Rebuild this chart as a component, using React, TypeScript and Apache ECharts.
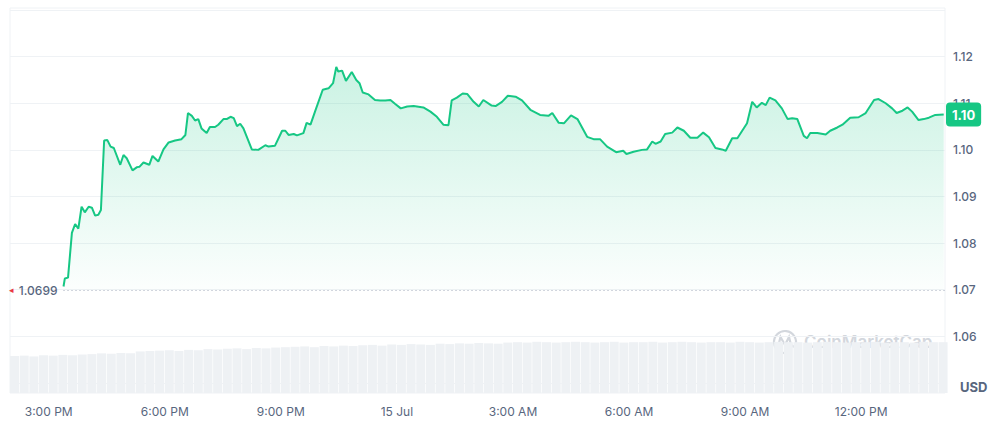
import React, { useEffect, useRef } from 'react';
import * as echarts from 'echarts';

// price line (14 Jul 15:23 -> 15 Jul 14:08)
const priceTimes = [
  '15:23', '15:25', '15:30', '15:36', '15:41', '15:46', '15:51', '15:56', '16:02', '16:07',
  '16:12', '16:17', '16:21', '16:26', '16:31', '16:36', '16:41', '16:51', '16:56', '17:01',
  '17:10', '17:17', '17:21', '17:27', '17:36', '17:41', '17:50', '17:58', '18:06', '18:16',
  '18:26', '18:32', '18:36', '18:42', '18:47', '18:52', '18:57', '19:05', '19:10', '19:18',
  '19:23', '19:31', '19:36', '19:42', '19:47', '19:52', '19:57', '20:02', '20:15', '20:25',
  '20:36', '20:41', '20:51', '21:02', '21:07', '21:12', '21:20', '21:25', '21:35', '21:40',
  '21:46', '21:53', '22:05', '22:14', '22:21', '22:26', '22:29', '22:35', '22:41', '22:50',
  '22:57', '23:02', '23:07', '23:16', '23:26', '23:34', '23:42', '23:50', '23:57', '00:06',
  '00:16', '00:26', '00:41', '00:52', '01:02', '01:12', '01:20', '01:25', '01:33', '01:42',
  '01:49', '01:59', '02:07', '02:14', '02:27', '02:33', '02:43', '02:52', '03:04', '03:14',
  '03:27', '03:42', '03:55', '04:01', '04:11', '04:19', '04:30', '04:40', '04:55', '05:05',
  '05:15', '05:26', '05:40', '05:51', '05:56', '06:07', '06:20', '06:28', '06:36', '06:41',
  '06:49', '06:56', '07:07', '07:15', '07:25', '07:35', '07:46', '07:55', '08:04', '08:14',
  '08:24', '08:30', '08:40', '08:48', '09:03', '09:11', '09:18', '09:26', '09:32', '09:38',
  '09:47', '09:57', '10:06', '10:13', '10:21', '10:31', '10:36', '10:41', '10:52', '11:05',
  '11:12', '11:23', '11:31', '11:43', '11:56', '12:07', '12:20', '12:27', '12:38', '12:48',
  '12:55', '13:04', '13:12', '13:19', '13:29', '13:37', '13:45', '13:55', '14:08'
];

const prices = [
  1.0707, 1.0724, 1.0726, 1.0822, 1.0841, 1.0831, 1.0878, 1.0866, 1.0878, 1.0876,
  1.0859, 1.0861, 1.0871, 1.1020, 1.1021, 1.1007, 1.1004, 1.0968, 1.0989, 1.0982,
  1.0956, 1.0963, 1.0964, 1.0973, 1.0968, 1.0987, 1.0975, 1.1001, 1.1016, 1.1020,
  1.1023, 1.1032, 1.1079, 1.1073, 1.1063, 1.1066, 1.1046, 1.1036, 1.1049, 1.1049,
  1.1054, 1.1066, 1.1066, 1.1071, 1.1068, 1.1051, 1.1056, 1.1046, 1.1001, 1.1000,
  1.1010, 1.1007, 1.1009, 1.1041, 1.1041, 1.1032, 1.1034, 1.1031, 1.1036, 1.1058,
  1.1054, 1.1082, 1.1129, 1.1132, 1.1143, 1.1178, 1.1168, 1.1170, 1.1148, 1.1167,
  1.1150, 1.1143, 1.1123, 1.1119, 1.1107, 1.1106, 1.1106, 1.1107, 1.1099, 1.1089,
  1.1093, 1.1094, 1.1091, 1.1082, 1.1071, 1.1054, 1.1053, 1.1106, 1.1112, 1.1121,
  1.1120, 1.1103, 1.1093, 1.1107, 1.1095, 1.1094, 1.1103, 1.1116, 1.1114, 1.1106,
  1.1086, 1.1075, 1.1073, 1.1079, 1.1058, 1.1057, 1.1074, 1.1066, 1.1028, 1.1023,
  1.1023, 1.1007, 1.0995, 1.0998, 1.0991, 1.0996, 1.1000, 1.1001, 1.1018, 1.1013,
  1.1018, 1.1034, 1.1037, 1.1048, 1.1041, 1.1026, 1.1026, 1.1037, 1.1027, 1.1004,
  1.1001, 1.0998, 1.1025, 1.1025, 1.1057, 1.1103, 1.1091, 1.1101, 1.1096, 1.1112,
  1.1106, 1.1089, 1.1066, 1.1068, 1.1066, 1.1030, 1.1025, 1.1036, 1.1036, 1.1033,
  1.1041, 1.1048, 1.1054, 1.1069, 1.1070, 1.1079, 1.1107, 1.1109, 1.1100, 1.1089,
  1.1079, 1.1084, 1.1091, 1.1082, 1.1064, 1.1066, 1.1069, 1.1075, 1.1076
];

// volume bars, one every 15 minutes from 14:07
const volumes = [
  96, 97, 95, 98, 97, 99, 98, 100,
  101, 103, 102, 104, 103,
  108, 109, 110, 111, 109, 112, 111,
  114, 113, 115, 116, 114, 117, 116, 118,
  119, 120, 121, 119, 122, 121, 123, 122,
  124, 125, 123, 126, 125, 127, 126, 125,
  128, 127, 129, 128, 130, 129, 128,
  131, 132, 131, 133, 132, 131, 132, 133, 132, 131,
  132, 133, 131, 132, 132, 133, 131, 132, 133, 132,
  131, 132, 132, 131, 133, 132, 131, 132, 133, 132,
  132, 131, 132, 133, 132, 131, 132, 132, 133, 131,
  132, 132, 131, 133, 132, 132
];

const openPrice = 1.0699;
const xTickTimes = ['15:00', '18:00', '21:00', '00:00', '03:00', '06:00', '09:00', '12:00'];

const GREEN = '#16c784';
const GREY = '#58667e';
const FONT = 'Inter, "Noto Sans", sans-serif';

// "HH:MM" strings -> timestamps, rolling over to 15 Jul after midnight
const toStamps = (times: string[]) => {
  let day = 14;
  let prev = -1;
  return times.map((t) => {
    const [h, m] = t.split(':').map(Number);
    if (h < prev) day += 1;
    prev = h;
    return new Date(2024, 6, day, h, m).getTime();
  });
};

const App: React.FC = () => {
  const chartRef = useRef<HTMLDivElement>(null);

  useEffect(() => {
    if (!chartRef.current) return;
    const chart = echarts.init(chartRef.current, null, { renderer: 'svg' });

    const xMin = new Date(2024, 6, 14, 14, 0).getTime();
    const xMax = new Date(2024, 6, 15, 14, 10).getTime();
    const priceStamps = toStamps(priceTimes);
    const priceData = priceStamps.map((t, i) => [t, prices[i]]);
    const volStart = new Date(2024, 6, 14, 14, 7).getTime();
    const volData = volumes.map((v, i) => [volStart + i * 15 * 60000, v]);
    const last = prices[prices.length - 1];

    const option = {
      animation: false,
      backgroundColor: '#ffffff',
      grid: [
        { left: 10, right: 56, top: 10, bottom: 40 },
        {
          left: 10, right: 56, top: 8, bottom: 30,
          show: true, borderColor: '#eff2f5', borderWidth: 1, backgroundColor: 'transparent'
        }
      ],
      xAxis: [
        { gridIndex: 0, type: 'value', min: xMin, max: xMax, show: false },
        {
          gridIndex: 1,
          type: 'value',
          min: xMin,
          max: xMax,
          axisLine: { show: false },
          axisTick: { show: false },
          splitLine: { show: false },
          axisLabel: {
            customValues: toStamps(xTickTimes),
            margin: 12,
            color: GREY,
            fontSize: 12,
            fontFamily: FONT,
            hideOverlap: false,
            formatter: (v: number) => {
              const d = new Date(v);
              const h = d.getHours();
              if (h === 0) return '15 Jul';
              const h12 = h % 12 === 0 ? 12 : h % 12;
              return `${h12}:00 ${h < 12 ? 'AM' : 'PM'}`;
            }
          }
        }
      ],
      yAxis: [
        {
          gridIndex: 0,
          type: 'value',
          position: 'right',
          min: 1.05,
          max: 1.13,
          interval: 0.01,
          axisLine: { show: false },
          axisTick: { show: false },
          splitLine: { lineStyle: { color: '#eff2f5', width: 1 } },
          axisLabel: {
            margin: 8,
            color: GREY,
            fontSize: 12,
            fontWeight: 500,
            fontFamily: FONT,
            formatter: (v: number) => (v < 1.055 || v > 1.125 ? '' : v.toFixed(2))
          }
        },
        { gridIndex: 1, type: 'value', min: 0, max: 1000, show: false }
      ],
      series: [
        {
          type: 'bar',
          xAxisIndex: 1,
          yAxisIndex: 1,
          data: volData,
          barWidth: 9,
          itemStyle: { color: '#eef1f4' },
          silent: true,
          z: 1
        },
        {
          type: 'line',
          xAxisIndex: 0,
          yAxisIndex: 0,
          data: priceData,
          symbol: 'none',
          lineStyle: { color: GREEN, width: 2 },
          areaStyle: {
            origin: openPrice,
            color: new echarts.graphic.LinearGradient(0, 0, 0, 1, [
              { offset: 0, color: 'rgba(22,199,132,0.32)' },
              { offset: 1, color: 'rgba(22,199,132,0.02)' }
            ])
          },
          z: 3,
          markLine: {
            silent: true,
            precision: 4,
            symbol: ['none', 'none'],
            z: 10,
            lineStyle: { color: '#a6adbd', type: [1, 3], width: 1 },
            label: {
              position: 'start',
              distance: 6,
              formatter: '{r|◂}{t|1.0699}',
              rich: {
                r: { color: '#ea3943', fontSize: 9, padding: [0, 5, 0, 0] },
                t: { color: GREY, fontSize: 12, fontWeight: 500, fontFamily: FONT }
              }
            },
            data: [
              [{ coord: [priceStamps[0], openPrice] }, { coord: [xMax, openPrice] }],
              {
                yAxis: last,
                lineStyle: { color: 'rgba(0,0,0,0)', width: 0 },
                label: {
                  position: 'end',
                  distance: 1,
                  opacity: 1,
                  align: 'left',
                  verticalAlign: 'middle',
                  formatter: (Math.floor(last * 100) / 100).toFixed(2),
                  backgroundColor: GREEN,
                  color: '#ffffff',
                  borderRadius: 4,
                  padding: [6, 6, 5, 6],
                  fontSize: 13,
                  fontWeight: 700,
                  fontFamily: FONT
                }
              }
            ]
          }
        }
      ],
      graphic: [
        {
          type: 'text',
          left: 960,
          top: 380,
          style: { text: 'USD', fill: GREY, font: `700 13px ${FONT}` }
        },
        {
          type: 'group',
          z: 10,
          silent: true,
          children: [
            {
              type: 'arc',
              shape: { cx: 785, cy: 342, r: 11, startAngle: 1.22, endAngle: 6.63, clockwise: true },
              style: { stroke: '#d3d7dd', lineWidth: 2.2, fill: 'none' }
            },
            {
              type: 'polyline',
              shape: { points: [[778, 347], [780.5, 337], [785, 345], [789, 337], [791, 345], [794, 347]] },
              style: { stroke: '#d3d7dd', lineWidth: 2.2, fill: 'none' }
            },
            {
              type: 'text',
              x: 804,
              y: 342,
              style: {
                text: 'CoinMarketCap',
                fill: '#d3d7dd',
                font: `600 17px ${FONT}`,
                verticalAlign: 'middle'
              }
            }
          ]
        }
      ]
    };

    chart.setOption(option);

    return () => {
      chart.dispose();
    };
  }, []);

  return (
    <div
      ref={chartRef}
      style={{ position: 'fixed', left: 0, top: 0, width: 1001, height: 423, background: '#fff' }}
    />
  );
};

export default App;
